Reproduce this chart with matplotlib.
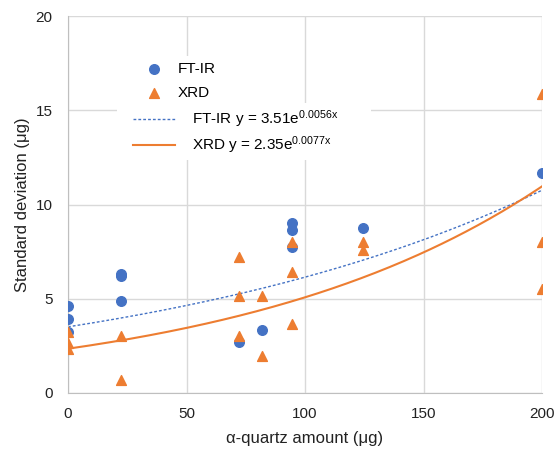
import numpy as np
import matplotlib
matplotlib.use("Agg")
from matplotlib import pyplot as plt
from matplotlib.patches import Rectangle

plt.rcParams['font.family'] = ['Liberation Sans', 'DejaVu Sans']

# FT-IR measurements
ftir_x = [0, 0, 0, 22.5, 22.5, 22.5, 72, 82, 94.5, 94.5, 94.5, 124.5, 200]
ftir_y = [4.6, 3.93, 3.24, 6.3, 6.22, 4.88, 2.72, 3.33, 9.0, 8.65, 7.76, 8.74, 11.67]

# XRD measurements
xrd_x = [0, 0, 0, 22.5, 22.5, 72, 72, 72, 82, 82, 94.5, 94.5, 94.5, 124.5, 124.5, 200, 200, 200]
xrd_y = [3.24, 2.65, 2.33, 3.02, 0.69, 7.23, 5.16, 3.04, 5.15, 1.96, 8.03, 6.4, 3.66,
         8.03, 7.59, 15.85, 8.03, 5.52]

# exponential trendlines y = a * exp(b x)
ftir_fit = (3.51, 0.0056)
xrd_fit = (2.35, 0.0077)

blue = "#4472C4"
orange = "#ED7D31"

fig = plt.figure(figsize=(5.57, 4.5), dpi=100)
ax = fig.add_axes([68/557, 57/450, 474/557, 377/450])

xs = np.linspace(0, 200, 200)
pts1 = ax.scatter(ftir_x, ftir_y, s=48, marker='o', color=blue, zorder=3, label="FT-IR")
pts2 = ax.scatter(xrd_x, xrd_y, s=50, marker='^', color=orange, zorder=4, label="XRD")
ln1, = ax.plot(xs, ftir_fit[0] * np.exp(ftir_fit[1] * xs), color=blue, lw=1.0,
               ls=(0, (2, 1.5)), zorder=2,
               label="FT-IR y = 3.51e$\\mathregular{^{0.0056x}}$")
ln2, = ax.plot(xs, xrd_fit[0] * np.exp(xrd_fit[1] * xs), color=orange, lw=1.5, zorder=2,
               label="XRD y = 2.35e$\\mathregular{^{0.0077x}}$")

ax.set_xlim(0, 200)
ax.set_ylim(0, 20)
ax.set_xticks([0, 50, 100, 150, 200])
ax.set_yticks([0, 5, 10, 15, 20])
ax.grid(True, color="#d9d9d9", lw=1.0)
ax.set_axisbelow(True)
for s in ["top", "right"]:
    ax.spines[s].set_visible(False)
for s in ["left", "bottom"]:
    ax.spines[s].set_color("#bfbfbf")
ax.tick_params(length=0, labelsize=11, colors="#222222")
ax.tick_params(axis="x", pad=10)
ax.tick_params(axis="y", pad=11)
ax.set_xlabel("α-quartz amount (μg)", fontsize=12, labelpad=7, color="#222222")
ax.set_ylabel("Standard deviation (μg)", fontsize=12, labelpad=4, color="#222222")

# white areas behind the legend entries (hide the grid like the original)
ax.add_patch(Rectangle((0.131, 0.763), 0.35, 0.13, transform=ax.transAxes,
                       facecolor="white", edgecolor="none", zorder=1))
ax.add_patch(Rectangle((0.103, 0.618), 0.536, 0.15, transform=ax.transAxes,
                       facecolor="white", edgecolor="none", zorder=1))

leg1 = ax.legend(handles=[pts1, pts2], loc="center left", bbox_to_anchor=(0.137, 0.828),
                 frameon=False, fontsize=11, handlelength=2.75, handletextpad=0.2,
                 borderpad=0, borderaxespad=0, labelspacing=0.65)
ax.add_artist(leg1)
ax.legend(handles=[ln1, ln2], loc="center left", bbox_to_anchor=(0.137, 0.691),
          frameon=False, fontsize=11, handlelength=2.75, handletextpad=1.1,
          borderpad=0, borderaxespad=0, labelspacing=0.3)

fig.savefig("out.png", dpi=100)
